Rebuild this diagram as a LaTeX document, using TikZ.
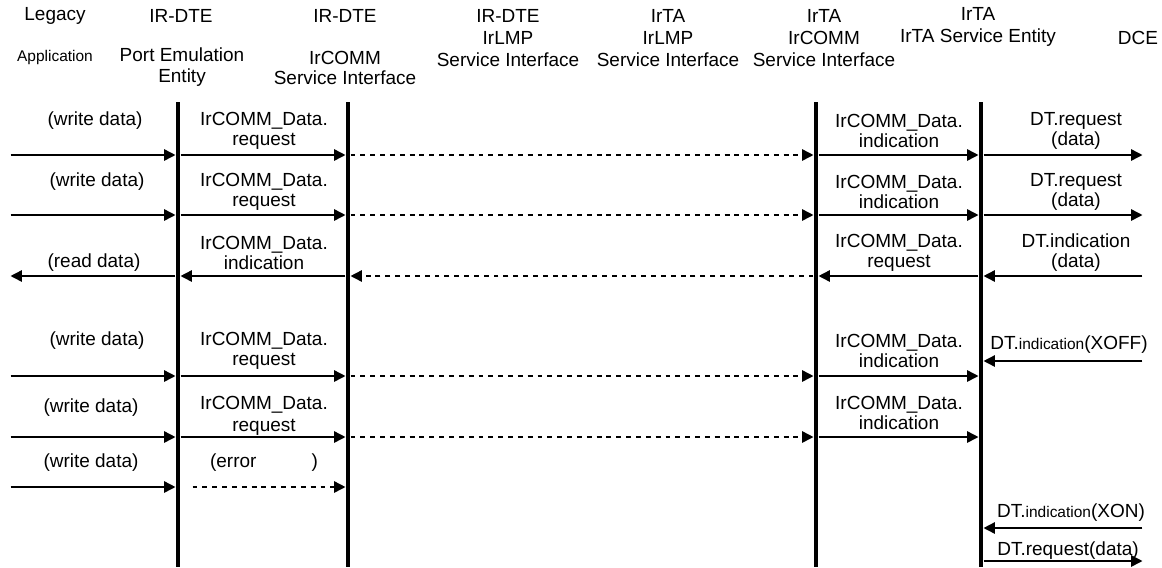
\documentclass[tikz,border=0pt]{standalone}
\usepackage{fontspec}
\setmainfont{Liberation Sans}
\usetikzlibrary{positioning,arrows.meta}
\tikzset{
    lifeline/.style={line width=2.8pt},
    msg/.style={-{Triangle[length=8pt,width=8pt]}, line width=1.1pt, shorten >=1.8pt, shorten <=1.8pt},
    dmsg/.style={msg, dash pattern=on 3.5pt off 3.5pt},
    lbl/.style={align=center, inner sep=0pt, font=\fontsize{13.5}{14.2}\selectfont},
    hdr/.style={align=center, inner sep=0pt, font=\fontsize{13.5}{15.6}\selectfont},
    small/.style={font=\fontsize{11}{13}\selectfont}
}

\begin{document}
\begin{tikzpicture}[x=0.025cm, y=-0.025cm]
\useasboundingbox (0,0) rectangle (1162,567);

% headers
\node[hdr] (legacy) at (55,16) {Legacy};
\node[hdr, small] (app) at (55,57) {Application};
\node[hdr] (pe-h1) at (181,16) {IR-DTE};
\node[hdr, font=\fontsize{13.5}{14.6}\selectfont] (pe-h2) at (182,67) {Port Emulation\\Entity};
\node[hdr] (ci-h1) at (345,16) {IR-DTE};
\node[hdr, font=\fontsize{13.5}{14.6}\selectfont] (ci-h2) at (345,68) {IrCOMM\\Service Interface};
\node[hdr] (li-h) at (508,38) {IR-DTE\\IrLMP\\Service Interface};
\node[hdr] (tl-h) at (668,38) {IrTA\\IrLMP\\Service Interface};
\node[hdr] (ti-h) at (824,38) {IrTA\\IrCOMM\\Service Interface};
\node[hdr] (se-h) at (978,27) {IrTA\\IrTA Service Entity};
\node[hdr] (dce) at (1138,38) {DCE};

% lifelines
\coordinate (pe) at (178,102);
\coordinate (ci) at (348,102);
\coordinate (ti) at (816,102);
\coordinate (se) at (981,102);
\coordinate (pe-b) at (178,567);
\coordinate (ci-b) at (348,567);
\coordinate (ti-b) at (816,567);
\coordinate (se-b) at (981,567);
\draw[lifeline] (pe) -- (pe-b);
\draw[lifeline] (ci) -- (ci-b);
\draw[lifeline] (ti) -- (ti-b);
\draw[lifeline] (se) -- (se-b);

% message rows
\coordinate (la) at (8,0);
\coordinate (ra) at (1145,0);
\coordinate (r1) at (0,155);
\coordinate (r2) at (0,215);
\coordinate (r3) at (0,276);
\coordinate (r4) at (0,376);
\coordinate (r4x) at (0,361);
\coordinate (r5) at (0,437);
\coordinate (r6) at (0,487);
\coordinate (r7) at (0,528);
\coordinate (r8) at (0,561);
\coordinate (errst) at (190,487);

% row 1
\node[lbl] (w1) at (95,121) {(write data)};
\node[lbl] (q1) at (264,131) {IrCOMM\_Data.\\request};
\node[lbl] (i1) at (899,131) {IrCOMM\_Data.\\indication};
\node[lbl] (d1) at (1076,131) {DT.request\\(data)};
\draw[msg] (la |- r1) -- (pe |- r1);
\draw[msg] (pe |- r1) -- (ci |- r1);
\draw[dmsg] (ci |- r1) -- (ti |- r1);
\draw[msg] (ti |- r1) -- (se |- r1);
\draw[msg] (se |- r1) -- (ra |- r1);

% row 2
\node[lbl] (w2) at (97,182) {(write data)};
\node[lbl] (q2) at (264,192) {IrCOMM\_Data.\\request};
\node[lbl] (i2) at (899,192) {IrCOMM\_Data.\\indication};
\node[lbl] (d2) at (1076,192) {DT.request\\(data)};
\draw[msg] (la |- r2) -- (pe |- r2);
\draw[msg] (pe |- r2) -- (ci |- r2);
\draw[dmsg] (ci |- r2) -- (ti |- r2);
\draw[msg] (ti |- r2) -- (se |- r2);
\draw[msg] (se |- r2) -- (ra |- r2);

% row 3
\node[lbl] (rd) at (94,263) {(read data)};
\node[lbl] (q3) at (264,253) {IrCOMM\_Data.\\indication};
\node[lbl] (i3) at (899,253) {IrCOMM\_Data.\\request};
\node[lbl] (d3) at (1076,253) {DT.indication\\(data)};
\draw[msg] (ra |- r3) -- (se |- r3);
\draw[msg] (se |- r3) -- (ti |- r3);
\draw[dmsg] (ti |- r3) -- (ci |- r3);
\draw[msg] (ci |- r3) -- (pe |- r3);
\draw[msg] (pe |- r3) -- (la |- r3);

% row 4
\node[lbl] (w4) at (97,341) {(write data)};
\node[lbl] (q4) at (264,351) {IrCOMM\_Data.\\request};
\node[lbl] (i4) at (899,351) {IrCOMM\_Data.\\indication};
\node[lbl] (xoff) at (1069,345) {DT.{\fontsize{11}{13}\selectfont indication}(XOFF)};
\draw[msg] (ra |- r4x) -- (se |- r4x);
\draw[msg] (la |- r4) -- (pe |- r4);
\draw[msg] (pe |- r4) -- (ci |- r4);
\draw[dmsg] (ci |- r4) -- (ti |- r4);
\draw[msg] (ti |- r4) -- (se |- r4);

% row 5
\node[lbl] (w5) at (91,408) {(write data)};
\node[lbl] (q5) at (264,416) {IrCOMM\_Data.\\[1pt]request};
\node[lbl] (i5) at (899,413) {IrCOMM\_Data.\\indication};
\draw[msg] (la |- r5) -- (pe |- r5);
\draw[msg] (pe |- r5) -- (ci |- r5);
\draw[dmsg] (ci |- r5) -- (ti |- r5);
\draw[msg] (ti |- r5) -- (se |- r5);

% row 6
\node[lbl] (w6) at (91,463) {(write data)};
\node[lbl] (err) at (264,463) {(error\hspace{2.9em})};
\draw[msg] (la |- r6) -- (pe |- r6);
\draw[dmsg] (errst) -- (ci |- r6);

% rows 7 and 8
\node[lbl] (xon) at (1071,513) {DT.{\fontsize{11}{13}\selectfont indication}(XON)};
\node[lbl] (dreq) at (1068,551) {DT.request(data)};
\draw[msg] (ra |- r7) -- (se |- r7);
\draw[msg] (se |- r8) -- (ra |- r8);

\end{tikzpicture}
\end{document}
